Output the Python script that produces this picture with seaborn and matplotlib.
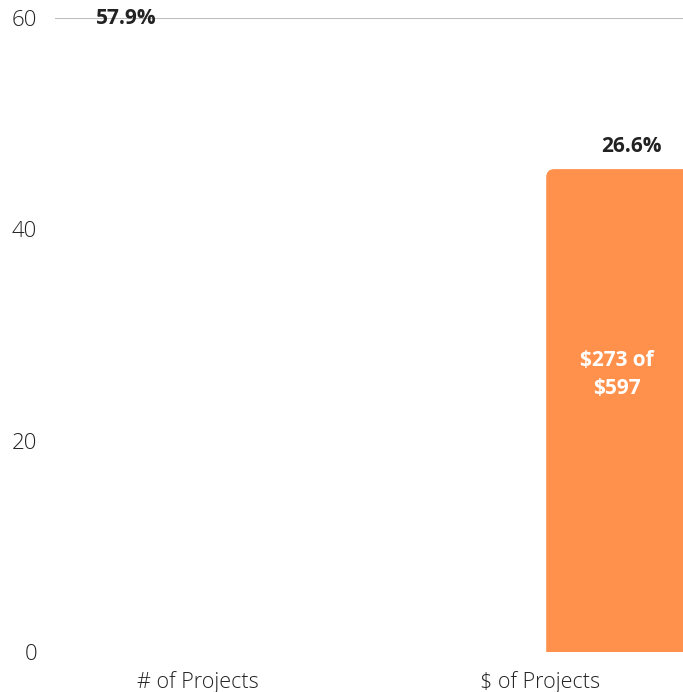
import seaborn as sns
import pandas as pd
import matplotlib.pyplot as plt
from matplotlib.patches import FancyBboxPatch

# Datos del grafico
categories = ['# of Projects', '$ of Projects']
series = ['left', 'right']
bar_values = [57.9, 45.7]
pct_labels = ['57.9%', '26.6%']
inner_labels = ['', '$273 of\n$597']
bar_colors = ['white', '#FF914D']

df = pd.DataFrame({'Category': categories, 'Series': series, 'Value': bar_values})

sns.set_style('white')
plt.rcParams['font.family'] = ['Open Sans', 'DejaVu Sans']

fig = plt.figure(figsize=(6.83, 6.92), dpi=100)
ax = fig.add_axes([55 / 683, 1 - 652 / 692, 1 - 55 / 683, 634 / 692])

sns.barplot(data=df, x='Category', y='Value', hue='Series', order=categories,
            hue_order=series, palette=bar_colors, dodge=True, width=0.96,
            gap=0.08, saturation=1, legend=False, ax=ax)

ax.set_ylim(0, 60)
ax.set_xlim(-0.42, 1.42)
ax.set_yticks([0, 20, 40, 60])
ax.axhline(60, color='#bdbdbd', lw=1.5, zorder=0)
for s in ax.spines.values():
    s.set_visible(False)
ax.tick_params(axis='y', length=0, pad=13, labelsize=16, labelcolor='#222222')
ax.tick_params(axis='x', length=0, pad=14, labelsize=15.5, labelcolor='#222222')
for t in ax.get_yticklabels() + ax.get_xticklabels():
    t.set_fontweight('light')
ax.set_xlabel('')
ax.set_ylabel('')

# Esquinas superiores redondeadas en las barras
bars = [p for p in ax.patches if p.get_height() > 0]
bars = sorted(bars, key=lambda p: p.get_x())
for p in bars:
    fc = p.get_facecolor()
    rb = FancyBboxPatch((p.get_x(), -2), p.get_width(), p.get_height() + 2,
                        boxstyle='round,pad=0,rounding_size=0.024',
                        mutation_aspect=33, facecolor=fc, edgecolor='none',
                        zorder=p.get_zorder())
    p.set_visible(False)
    ax.add_patch(rb)

# Etiquetas sobre y dentro de las barras
for p, pct, inner in zip(bars, pct_labels, inner_labels):
    cx = p.get_x() + p.get_width() / 2
    h = p.get_height()
    ax.text(cx + 0.03, h + 1.1, pct, ha='center', va='bottom', fontsize=15,
            fontweight='bold', color='#222222', clip_on=False)
    if inner:
        ax.text(cx - 0.015, h / 2 + 3.4, inner, ha='center', va='center', fontsize=15,
                fontweight='bold', color='white', linespacing=1.45)

fig.savefig('out.png', dpi=100)
